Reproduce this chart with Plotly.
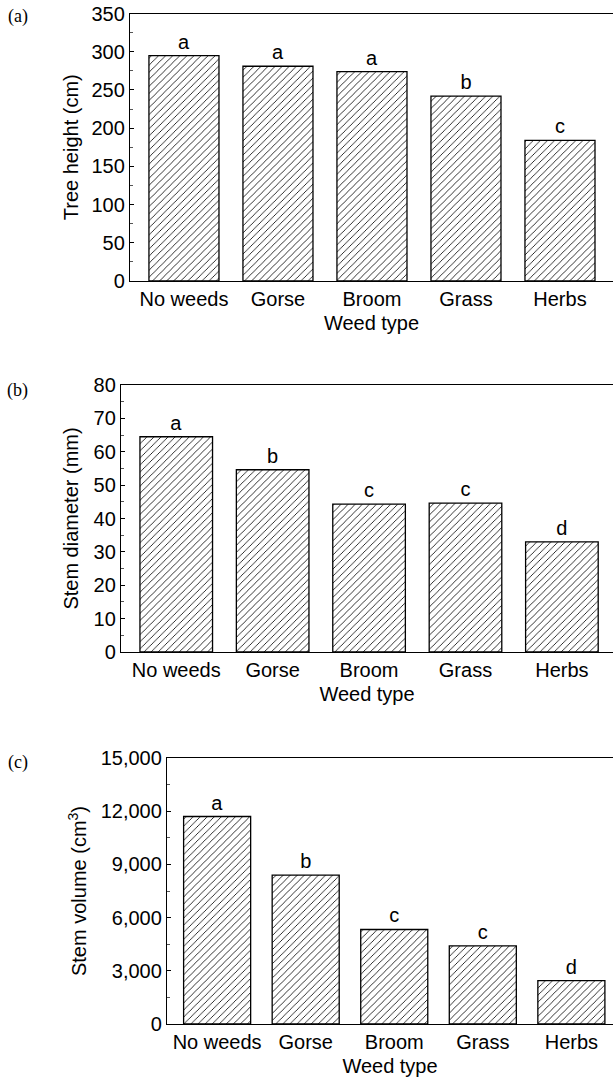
import plotly.graph_objects as go

categories = ["No weeds", "Gorse", "Broom", "Grass", "Herbs"]
tree_height = [295, 281, 274, 242, 184]
height_letters = ["a", "a", "a", "b", "c"]
stem_diameter = [64.5, 54.6, 44.3, 44.6, 33.0]
diameter_letters = ["a", "b", "c", "c", "d"]
stem_volume = [11700, 8400, 5330, 4400, 2450]
volume_letters = ["a", "b", "c", "c", "d"]

W, H = 613, 1080
FONT = "Liberation Sans, Arial, sans-serif"
FS = 20

fig = go.Figure()

panels = [
    dict(vals=tree_height, letters=height_letters, x0=130, ybot=281, ytop=13.5,
         xr=[-0.574, 4.564], yr=[0, 350], dt=50, minor=25, width=0.745,
         title="Tree height (cm)", fmt=None, lab="(a)", laby=16, ystand=7),
    dict(vals=stem_diameter, letters=diameter_letters, x0=121, ybot=652, ytop=385,
         xr=[-0.573, 4.53], yr=[0, 80], dt=10, minor=5, width=0.753,
         title="Stem diameter (mm)", fmt=None, lab="(b)", laby=390, ystand=9),
    dict(vals=stem_volume, letters=volume_letters, x0=167, ybot=1024, ytop=758,
         xr=[-0.566, 4.47], yr=[0, 15000], dt=3000, minor=1500, width=0.757,
         title="Stem volume (cm<sup>3</sup>)", fmt=",", lab="(c)", laby=762, ystand=8),
]

for i, p in enumerate(panels, start=1):
    sfx = "" if i == 1 else str(i)
    fig.add_trace(go.Bar(
        x=categories, y=p["vals"], text=p["letters"], textposition="outside",
        textfont=dict(family=FONT, size=FS, color="black"), cliponaxis=False,
        width=p["width"],
        marker=dict(color="white", line=dict(color="black", width=1.3),
                    pattern=dict(shape="/", fgcolor="black", bgcolor="white",
                                 size=5, solidity=0.16, fillmode="replace")),
        xaxis="x" + sfx, yaxis="y" + sfx, showlegend=False,
    ))
    xd = [p["x0"] / W, 1]
    yd = [1 - p["ybot"] / H, 1 - p["ytop"] / H]
    fig.layout["xaxis" + sfx] = dict(
        domain=xd, anchor="y" + sfx, range=p["xr"], type="category",
        automargin=False,
        showline=True, linecolor="black", linewidth=1.3, mirror=True,
        ticks="", showgrid=False, zeroline=False,
        tickfont=dict(family=FONT, size=FS, color="black"),
        title=dict(text="Weed type", font=dict(family=FONT, size=FS, color="black"),
                   standoff=6),
    )
    fig.layout["yaxis" + sfx] = dict(
        domain=yd, anchor="x" + sfx, range=p["yr"], dtick=p["dt"], tick0=0,
        automargin=False,
        showline=True, linecolor="black", linewidth=1.3, mirror=False,
        ticks="inside", ticklen=4, tickcolor="black", tickwidth=1,
        minor=dict(ticks="inside", ticklen=3, dtick=p["minor"], tickcolor="#555555"),
        showgrid=False, zeroline=False,
        tickformat=p["fmt"] if p["fmt"] else None,
        tickfont=dict(family=FONT, size=FS, color="black"),
        title=dict(text=p["title"], font=dict(family=FONT, size=FS, color="black"),
                   standoff=p["ystand"]),
    )
    fig.add_annotation(text=p["lab"], xref="paper", yref="paper",
                       x=17.5 / W, y=1 - p["laby"] / H, showarrow=False,
                       xanchor="center", yanchor="middle",
                       font=dict(family="Liberation Serif, Times New Roman, serif",
                                 size=18, color="black"))

fig.update_layout(
    template="none",
    width=W, height=H, margin=dict(l=0, r=0, t=0, b=0, autoexpand=False),
    paper_bgcolor="white", plot_bgcolor="white", showlegend=False,
)

# remove the default page margin so the figure fills the 613x1080 window exactly
fig.write_html("out.html",
               config={"displayModeBar": False},
               post_script="document.body.style.margin='0';"
                           "document.body.style.overflow='hidden';")
